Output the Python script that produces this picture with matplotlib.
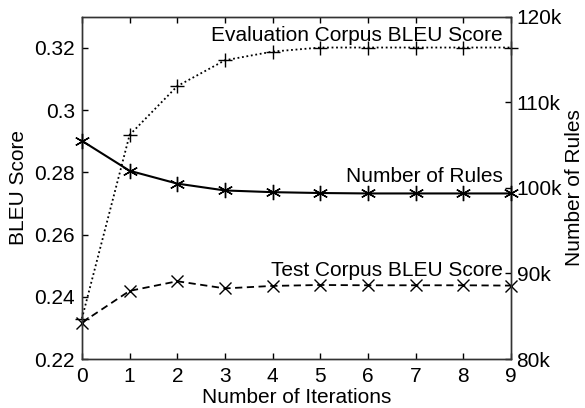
import matplotlib
matplotlib.use("Agg")
import matplotlib.pyplot as plt

plt.rcParams['font.family'] = ['Liberation Sans', 'DejaVu Sans']

iterations = [0, 1, 2, 3, 4, 5, 6, 7, 8, 9]
eval_bleu = [0.233, 0.292, 0.3077, 0.316, 0.3188, 0.3201, 0.3201, 0.3201, 0.3201, 0.3201]
test_bleu = [0.2317, 0.2419, 0.2450, 0.2427, 0.2435, 0.2438, 0.2437, 0.2437, 0.2437, 0.2436]
num_rules = [105.5, 102.0, 100.5, 99.7, 99.5, 99.4, 99.35, 99.35, 99.35, 99.35]  # thousands

left_ticks = [0.22, 0.24, 0.26, 0.28, 0.30, 0.32]
left_labels = ['0.22', '0.24', '0.26', '0.28', '0.3', '0.32']
right_ticks = [80, 90, 100, 110, 120]
right_labels = ['80k', '90k', '100k', '110k', '120k']

fig = plt.figure(figsize=(5.85, 4.08), dpi=100)
ax = fig.add_axes([0.140, 0.120, 0.7335, 0.839])
ax2 = ax.twinx()

ax.plot(iterations, eval_bleu, color='black', linestyle=(0, (1, 1.5)), linewidth=1.3,
        marker='+', markersize=10, markeredgewidth=1.0, clip_on=False, zorder=3)
ax.plot(iterations, test_bleu, color='black', linestyle=(0, (4, 2.5)), linewidth=1.3,
        marker='x', markersize=8, markeredgewidth=1.0, clip_on=False, zorder=3)
ax2.plot(iterations, num_rules, color='black', linestyle='-', linewidth=1.5,
         marker=(6, 2, 0), markersize=11, markeredgewidth=1.0, clip_on=False, zorder=3)

ax.set_xlim(0, 9)
ax.set_ylim(0.22, 0.33)
ax2.set_ylim(80, 120)

ax.set_xticks(iterations)
ax.set_yticks(left_ticks)
ax.set_yticklabels(left_labels)
ax2.set_yticks(right_ticks)
ax2.set_yticklabels(right_labels)

fs = 15
ax.tick_params(axis='both', direction='in', length=4, width=1, labelsize=fs, colors='black')
ax.tick_params(axis='x', top=True, pad=6)
ax.tick_params(axis='y', pad=5)
ax2.tick_params(axis='y', direction='in', length=4, width=1, labelsize=fs, pad=4)

for a in (ax, ax2):
    for s in a.spines.values():
        s.set_linewidth(1.0)
        s.set_color('#333333')

ax.set_xlabel('Number of Iterations', fontsize=fs)
ax.xaxis.set_label_coords(0.5, -0.111)
ax.xaxis.label.set_va('center')

ax.set_ylabel('BLEU Score', fontsize=fs)
ax.yaxis.set_label_coords(-0.147, 0.5)
ax.yaxis.label.set_va('center')
ax.yaxis.label.set_ha('center')

ax2.set_ylabel('Number of Rules', fontsize=fs)
ax2.yaxis.set_label_coords(1.148, 0.5)
ax2.yaxis.label.set_va('center')
ax2.yaxis.label.set_ha('center')

ax.text(8.83, 0.3222, 'Evaluation Corpus BLEU Score', fontsize=fs, ha='right', va='baseline')
ax2.text(8.83, 100.68, 'Number of Rules', fontsize=fs, ha='right', va='baseline')
ax.text(8.83, 0.2467, 'Test Corpus BLEU Score', fontsize=fs, ha='right', va='baseline')

fig.savefig('out.png', dpi=100)
